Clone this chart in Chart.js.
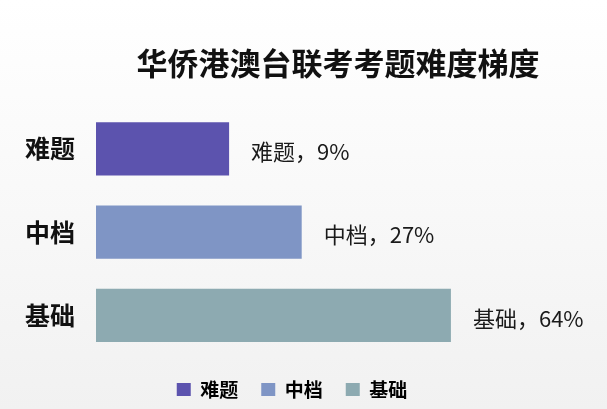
<!DOCTYPE html>
<html>
<head>
<meta charset="utf-8">
<script src="https://cdn.jsdelivr.net/npm/chart.js@4.4.1/dist/chart.umd.min.js"></script>
<style>
    html, body { margin: 0; padding: 0; }
    body {
        width: 607px; height: 409px;
        background: linear-gradient(to bottom, #ffffff 0%, #f7f7f7 60%, #f1f1f1 100%);
    }
    #wrap { width: 607px; height: 409px; }
</style>
</head>
<body>
<div id="wrap"><canvas id="difficulty-chart"></canvas></div>
<script>
/* Chart data */
let categories = ['难题', '中档', '基础']
let shares = [9, 27, 64]  // percent of questions
let barColors = ['#5c53ae', '#7f95c5', '#8daab1']

let chartTitle = '华侨港澳台联考考题难度梯度'

let cjkFont = '"Noto Sans CJK SC", "Noto Sans", sans-serif'

/* Writes "name，value%" just past the end of each bar */
let valueLabels = {
    id: 'valueLabels',
    afterDatasetsDraw(chart) {
        let ctx = chart.ctx
        let meta = chart.getDatasetMeta(0)
        ctx.save()
        ctx.font = '22px ' + cjkFont
        ctx.fillStyle = '#1a1a1a'
        ctx.textBaseline = 'middle'
        ctx.textAlign = 'left'
        meta.data.forEach(function(bar, i) {
            let text = chart.data.labels[i] + '，' + chart.data.datasets[0].data[i] + '%'
            ctx.fillText(text, bar.x + 22, bar.y + 3)
        })
        ctx.restore()
    }
}

let ctx = document.querySelector('#difficulty-chart').getContext('2d')

let difficultyChart = new Chart(ctx, {
    type: 'bar',
    data: {
        labels: categories,
        datasets: [ {
            data: shares,
            backgroundColor: barColors,
            base: -24,
            categoryPercentage: 0.64,
            barPercentage: 1
        } ]
    },
    options: {
        indexAxis: 'y',
        responsive: true,
        maintainAspectRatio: false,
        animation: false,
        layout: { padding: { top: 45, left: 4, right: 27, bottom: 0 } },
        scales: {
            x: {
                display: false,
                min: -24,
                max: 96
            },
            y: {
                grid: { display: false, drawTicks: false },
                border: { display: false },
                ticks: {
                    padding: 21,
                    color: '#111',
                    font: { family: cjkFont, size: 25, weight: 'bold' }
                }
            }
        },
        plugins: {
            title: {
                display: true,
                text: chartTitle,
                fullSize: false,
                color: '#111',
                font: { family: cjkFont, size: 31, weight: 'bold' },
                padding: { top: 0, bottom: 25 }
            },
            legend: {
                position: 'bottom',
                labels: {
                    boxWidth: 14,
                    boxHeight: 13,
                    padding: 23,
                    color: '#1a1a1a',
                    font: { family: cjkFont, size: 19, weight: 'bold' },
                    // one legend entry per bar colour
                    generateLabels: function(chart) {
                        return chart.data.labels.map(function(name, i) {
                            return {
                                text: name,
                                fillStyle: barColors[i],
                                strokeStyle: barColors[i],
                                lineWidth: 0,
                                index: i
                            }
                        })
                    }
                }
            },
            tooltip: { enabled: false }
        }
    },
    plugins: [valueLabels]
})
</script>
</body>
</html>
